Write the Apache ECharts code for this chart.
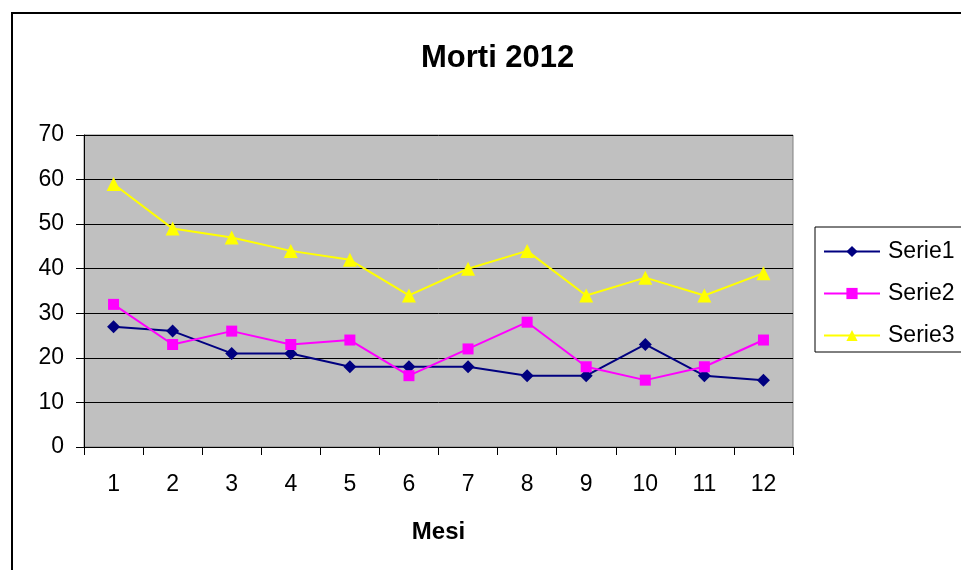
<!DOCTYPE html>
<html>
<head>
<meta charset="utf-8">
<script src="https://cdn.jsdelivr.net/npm/echarts@6/dist/echarts.min.js"></script>
<style>
    html, body {margin: 0; padding: 0; background: #fff;}
    #main {width: 961px; height: 570px;}
</style>
</head>
<body>
<div id="main"></div>
<script>
// dati
var mesi = ['1', '2', '3', '4', '5', '6', '7', '8', '9', '10', '11', '12']
var serie1 = [27, 26, 21, 21, 18, 18, 18, 16, 16, 23, 16, 15]
var serie2 = [32, 23, 26, 23, 24, 16, 22, 28, 18, 15, 18, 24]
var serie3 = [59, 49, 47, 44, 42, 34, 40, 44, 34, 38, 34, 39]

var font = 'Arial, "Liberation Sans", sans-serif'

function linea(nome, dati, colore, simbolo, size) {
    return {
        name: nome,
        type: 'line',
        data: dati,
        symbol: simbolo,
        symbolSize: size,
        itemStyle: {color: colore},
        lineStyle: {color: colore, width: 2},
        emphasis: {disabled: true},
        animation: false
    }
}

var myChart = echarts.init(document.getElementById('main'))
myChart.setOption({
    backgroundColor: '#fff',
    title: {
        text: 'Morti 2012',
        left: 416,
        top: 38,
        textStyle: {fontFamily: font, fontSize: 31, fontWeight: 'bold', color: '#000'}
    },
    //cornice esterna
    graphic: [{
        type: 'rect',
        shape: {x: 12, y: 13, width: 1000, height: 600},
        style: {fill: 'none', stroke: '#000', lineWidth: 2},
        silent: true
    }],
    legend: {
        orient: 'vertical',
        left: 815,
        top: 227,
        width: 170,
        padding: [13, 40, 5, 8],
        itemGap: 19,
        itemWidth: 56,
        itemHeight: 14,
        borderColor: '#000',
        borderWidth: 1,
        backgroundColor: '#fff',
        textStyle: {fontFamily: font, fontSize: 23, color: '#000', padding: [0, 0, 0, 3]},
        data: ['Serie1', 'Serie2', 'Serie3']
    },
    grid: {left: 84, right: 168, top: 135, bottom: 123, show: true, backgroundColor: '#c0c0c0', borderColor: '#808080', borderWidth: 1},
    xAxis: {
        type: 'category',
        data: mesi,
        boundaryGap: true,
        name: 'Mesi',
        nameLocation: 'middle',
        nameGap: 73,
        nameTextStyle: {fontFamily: font, fontSize: 24, fontWeight: 'bold', color: '#000'},
        axisLine: {lineStyle: {color: '#000', width: 1}},
        axisTick: {show: true, length: 8, lineStyle: {color: '#000'}},
        axisLabel: {fontFamily: font, fontSize: 23, color: '#000', margin: 26},
        splitLine: {show: false}
    },
    yAxis: {
        type: 'value',
        min: 0,
        max: 70,
        interval: 10,
        axisLine: {show: true, lineStyle: {color: '#000', width: 1}},
        axisTick: {show: true, length: 8, lineStyle: {color: '#000'}},
        axisLabel: {fontFamily: font, fontSize: 23, color: '#000', margin: 20},
        splitLine: {show: true, lineStyle: {color: '#000', width: 1}}
    },
    series: [
        linea('Serie1', serie1, '#000080', 'diamond', 13),
        linea('Serie2', serie2, '#ff00ff', 'rect', 11),
        linea('Serie3', serie3, '#ffff00', 'triangle', 14)
    ]
})
</script>
</body>
</html>
